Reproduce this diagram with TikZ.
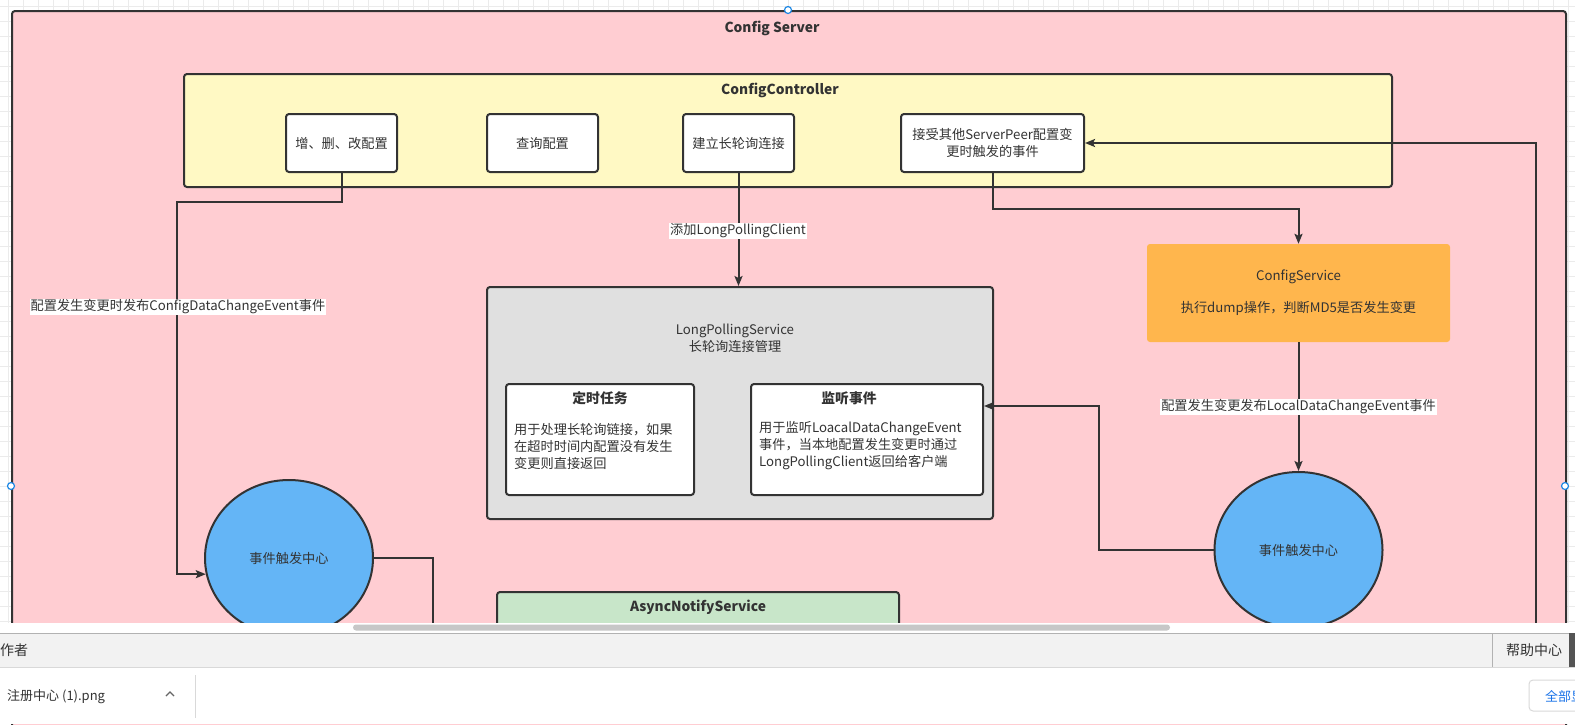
\documentclass[tikz,border=0pt]{standalone}
\usepackage{fontspec}
\setmainfont{Noto Sans CJK SC}
\usetikzlibrary{arrows.meta,shapes.geometric,calc}
\definecolor{pinkc}{HTML}{FFCDD2}
\definecolor{yelc}{HTML}{FFF9C4}
\definecolor{grayc}{HTML}{E0E0E0}
\definecolor{orac}{HTML}{FFB64D}
\definecolor{bluec}{HTML}{64B5F6}
\definecolor{greenc}{HTML}{C8E6C9}
\definecolor{strk}{HTML}{333333}
\definecolor{txt}{HTML}{333333}
\definecolor{gridc}{HTML}{EBEBEB}
\definecolor{handc}{HTML}{1E88E5}
\definecolor{linkc}{HTML}{1A73E8}
\begin{document}
\begin{tikzpicture}[x=1pt,y=-1pt,
  every node/.style={text=txt, font=\fontsize{13.2}{17}\selectfont},
  box/.style={draw=strk, line width=2pt, rounded corners=3pt, inner sep=0pt},
  wbox/.style={box, fill=white, align=center},
  circ/.style={ellipse, draw=strk, line width=2pt, fill=bluec, inner sep=0pt, minimum width=168pt, minimum height=156pt},
  arr/.style={draw=strk, line width=2pt, -{Stealth[length=10pt,width=8pt,inset=2pt]}},
  ln/.style={draw=strk, line width=2pt},
  lbl/.style={fill=white, inner sep=1pt},
  ttl/.style={font=\fontsize{13.8}{16}\selectfont\bfseries},
  handle/.style={circle, draw=handc, fill=white, line width=1.2pt, inner sep=0pt, minimum size=7pt},
  uitext/.style={font=\fontsize{14}{16}\selectfont, anchor=west, inner sep=0pt}
]
\useasboundingbox (0,0) rectangle (1575,724);
% background and grid
\fill[white] (0,0) rectangle (1575,724);
\begin{scope}[shift={(8,6)}]
\draw[gridc, line width=0.6pt, step=15pt] (-8,-6) grid (1567,627);
\end{scope}

% outer container
\node[box, fill=pinkc, minimum width=1554pt, minimum height=952pt, anchor=north west] (server) at (11,10) {};
\node[ttl] (servert) at (772,28) {Config Server};

% ConfigController
\node[box, fill=yelc, minimum width=1208pt, minimum height=113pt] (ctrl) at (788,130.5) {};
\node[ttl] (ctrlt) at (780,90) {ConfigController};
\node[wbox, minimum width=111pt, minimum height=58pt] (zeng) at (341.5,143) {增、删、改配置};
\node[wbox, minimum width=111pt, minimum height=58pt] (cha) at (542.5,143) {查询配置};
\node[wbox, minimum width=111pt, minimum height=58pt] (jian) at (738.5,143) {建立长轮询连接};
\node[wbox, minimum width=183pt, minimum height=58pt] (jie) at (992.5,143) {接受其他ServerPeer配置变\\更时触发的事件};

% ConfigService
\node[rounded corners=3pt, fill=orac, minimum width=303pt, minimum height=98pt, align=center, inner sep=0pt] (cs) at (1298.5,293) {ConfigService\\[15pt]执行dump操作，判断MD5是否发生变更};

% LongPollingService
\node[box, fill=grayc, minimum width=506pt, minimum height=232pt] (lp) at (740,403) {};
\node[align=center] (lpt) at (735,338) {LongPollingService\\长轮询连接管理};
\node[box, fill=white, minimum width=188pt, minimum height=111pt] (ds) at (600,439.5) {};
\node[ttl] (dst) at (600,398) {定时任务};
\node[align=left, anchor=west, inner sep=0pt] (dsb) at (514,446) {用于处理长轮询链接，如果\\在超时时间内配置没有发生\\变更则直接返回};
\node[box, fill=white, minimum width=232pt, minimum height=111pt] (jt) at (867,439.5) {};
\node[ttl] (jtt) at (849,398) {监听事件};
\node[align=left, anchor=west, inner sep=0pt] (jtb) at (759,446) {用于监听LoacalDataChangeEvent\\事件，当本地配置发生变更时通过\\LongPollingClient返回给客户端};

% event centers
\node[circ] (evL) at (289,558) {事件触发中心};
\node[circ] (evR) at (1298.5,550) {事件触发中心};

% AsyncNotifyService
\node[box, fill=greenc, minimum width=402pt, minimum height=116pt] (an) at (698,650) {};
\node[ttl] (ant) at (698,607) {AsyncNotifyService};

% connectors
\coordinate (leftbend) at (177,202);
\draw[arr] (zeng.south) |- (leftbend) |- (evL.191);
\node[lbl] (lab1) at (178,307) {配置发生变更时发布ConfigDataChangeEvent事件};

\draw[arr] (jian.south) -- (jian.south |- lp.north);
\node[lbl] (lab2) at (738,231) {添加LongPollingClient};

\coordinate (jiebend) at (992.5,209);
\draw[arr] (jie.south) -- (jiebend) -| (cs.north);

\draw[arr] (cs.south) -- (evR.north);
\node[lbl] (lab3) at (1298.5,407) {配置发生变更发布LocalDataChangeEvent事件};

\coordinate (rbend) at (1099,406);
\draw[arr] (evR.west) -| (rbend) -- ([yshift=33.5pt]jt.east);

\coordinate (lout) at (433,700);
\draw[ln] (evL.east) -| (lout);

\coordinate (rin) at (1536,700);
\draw[arr] (rin) |- (jie.east);

% selection handles
\node[handle] (h1) at (788,10) {};
\node[handle] (h2) at (11,486) {};
\node[handle] (h3) at (1565,486) {};

% browser UI at the bottom
\fill[white] (0,623) rectangle (1575,633);
\fill[black!22, rounded corners=3pt] (353,624.5) rectangle (1170,630.5);
\fill[black!5] (0,633) rectangle (1575,667);
\draw[black!30, line width=1pt] (0,633) -- (1575,633);
\draw[black!15, line width=1pt] (0,667.5) -- (1575,667.5);
\fill[white] (0,668) rectangle (1575,724);
\node[uitext] (zz) at (0,650) {作者};
\draw[black!30, line width=1pt] (1492,633) -- (1492,667);
\node[uitext] (help) at (1506,650) {帮助中心};
\fill[black!67] (1569,633) rectangle (1575,667);
\node[uitext, font=\fontsize{13}{16}\selectfont] (file) at (7,697) {注册中心 (1).png};
\draw[black!60, line width=1.2pt] (166,696) -- (170,692) -- (174,696);
\draw[black!15, line width=1pt] (195,675) -- (195,718);
\draw[black!15, line width=1pt, fill=white, rounded corners=4pt] (1529,680) rectangle (1600,711);
\node[uitext, font=\fontsize{13}{16}\selectfont, text=linkc] (allbtn) at (1545,696) {全部显};
\end{tikzpicture}
\end{document}
